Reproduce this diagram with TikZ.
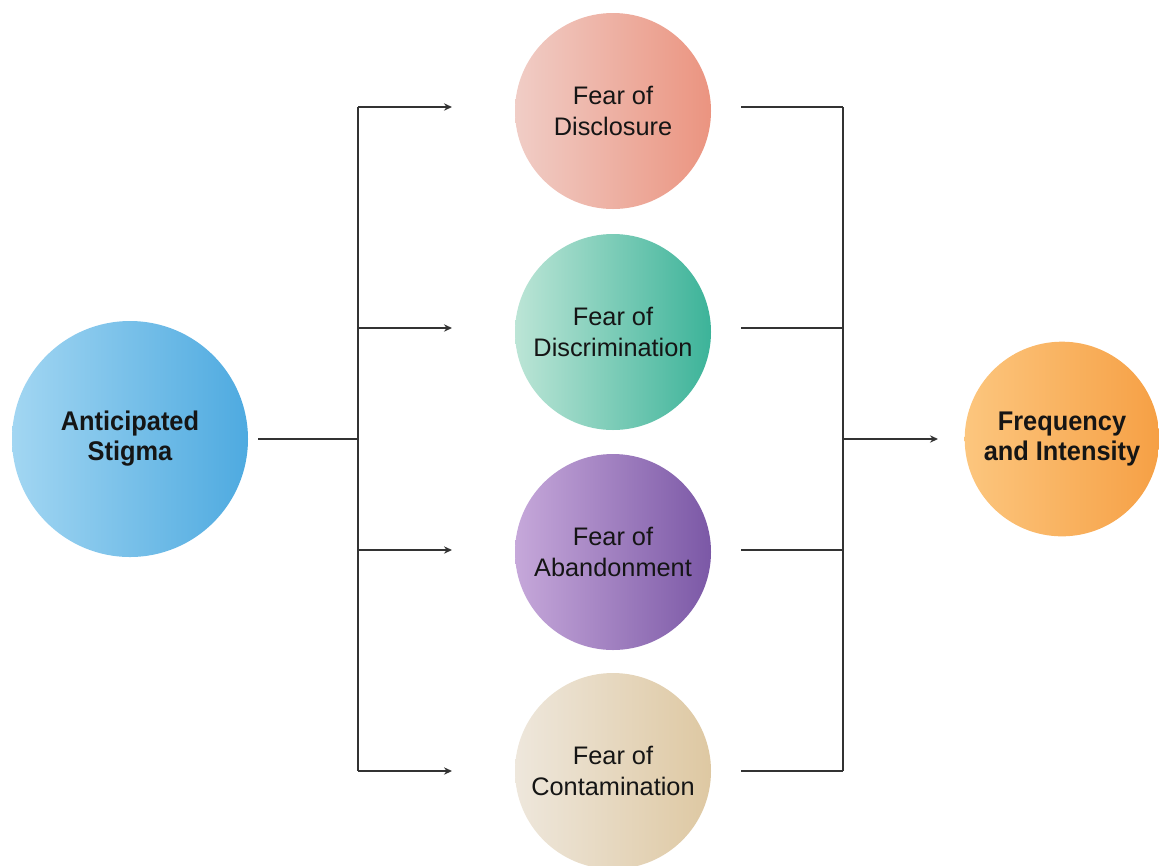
\documentclass[tikz,border=0pt]{standalone}
\usepackage{fontspec}
\setmainfont{Liberation Sans}
\newfontfamily\boldcond[FakeStretch=0.94]{Liberation Sans}
\usetikzlibrary{arrows.meta}
\definecolor{txt}{HTML}{151515}
\definecolor{ln}{HTML}{333333}
\definecolor{asL}{HTML}{A2D6F2}\definecolor{asR}{HTML}{4EAAE0}
\definecolor{diL}{HTML}{F0CDC6}\definecolor{diR}{HTML}{EB9480}
\definecolor{dcL}{HTML}{BCE5D6}\definecolor{dcR}{HTML}{3CB399}
\definecolor{abL}{HTML}{C6A8DA}\definecolor{abR}{HTML}{7B58A6}
\definecolor{coL}{HTML}{EEE7DC}\definecolor{coR}{HTML}{DEC8A2}
\definecolor{frL}{HTML}{FCC67E}\definecolor{frR}{HTML}{F6A045}
\tikzset{
  bigcirc/.style={circle, inner sep=0pt, minimum size=177pt, text=txt, align=center,
    font=\boldcond\bfseries\fontsize{20.25pt}{22.5pt}\selectfont},
  fearcirc/.style={circle, inner sep=0pt, minimum size=147pt, text=txt, align=center,
    font=\fontsize{19pt}{23.25pt}\selectfont},
  freqcirc/.style={circle, inner sep=0pt, minimum size=146pt, text=txt, align=center,
    font=\boldcond\bfseries\fontsize{20.25pt}{22.5pt}\selectfont},
  conn/.style={draw=ln, line width=1.1pt},
  arr/.style={conn, -{Stealth[length=6pt,width=5.5pt]}},
}
\begin{document}
\begin{tikzpicture}[x=0.75pt,y=-0.75pt]
\useasboundingbox (0,0) rectangle (1159,865);
% circles
\node[bigcirc, left color=asL, right color=asR] (as) at (130,439) {Anticipated\\Stigma};
\node[fearcirc, left color=diL, right color=diR] (d1) at (613,111) {Fear of\\Disclosure};
\node[fearcirc, left color=dcL, right color=dcR] (d2) at (613,332) {Fear of\\Discrimination};
\node[fearcirc, left color=abL, right color=abR] (d3) at (613,552) {Fear of\\Abandonment};
\node[fearcirc, left color=coL, right color=coR] (d4) at (613,771) {Fear of\\Contamination};
\node[freqcirc, left color=frL, right color=frR] (fr) at (1062,439) {Frequency\\and Intensity};
% junction coordinates
\coordinate (jl) at (358,439);
\coordinate (jl1) at (358,107);
\coordinate (jl2) at (358,328);
\coordinate (jl3) at (358,550);
\coordinate (jl4) at (358,771);
\coordinate (a1) at (452,107);
\coordinate (a2) at (452,328);
\coordinate (a3) at (452,550);
\coordinate (a4) at (452,771);
\coordinate (s1) at (741,107);
\coordinate (s2) at (741,328);
\coordinate (s3) at (741,550);
\coordinate (s4) at (741,771);
\coordinate (jr1) at (843,107);
\coordinate (jr2) at (843,328);
\coordinate (jr3) at (843,550);
\coordinate (jr4) at (843,771);
\coordinate (jr) at (843,439);
\coordinate (af) at (938,439);
% left connectors
\draw[conn] (as.east) ++(10,0) coordinate (ase) -- (jl);
\draw[conn] (jl1) -- (jl4);
\draw[arr] (jl1) -- (a1);
\draw[arr] (jl2) -- (a2);
\draw[arr] (jl3) -- (a3);
\draw[arr] (jl4) -- (a4);
% right connectors
\draw[conn] (s1) -- (jr1);
\draw[conn] (s2) -- (jr2);
\draw[conn] (s3) -- (jr3);
\draw[conn] (s4) -- (jr4);
\draw[conn] (jr1) -- (jr4);
\draw[arr] (jr) -- (af);
\end{tikzpicture}
\end{document}
